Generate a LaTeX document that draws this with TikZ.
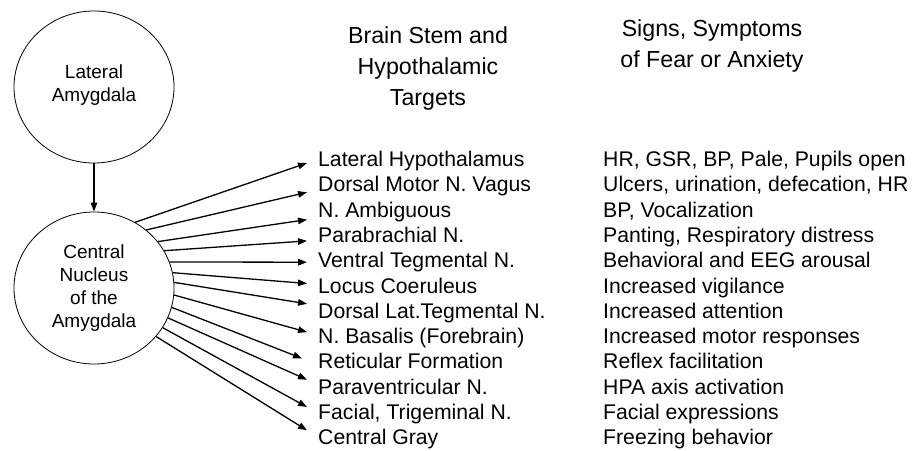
\documentclass[tikz,border=0pt]{standalone}
\usepackage{fontspec}
\setmainfont{Liberation Sans}
\usetikzlibrary{arrows.meta,shapes.geometric}

\begin{document}
\begin{tikzpicture}[x=1pt,y=-1pt,nuc/.style={draw,ellipse,line width=0.8pt,minimum width=160pt,minimum height=152pt,align=center,font=\fontsize{19}{23}\selectfont},head/.style={align=center,font=\fontsize{23.2}{31}\selectfont},tgt/.style={anchor=west,inner xsep=11pt,inner ysep=0pt,text height=15pt,text depth=4pt,font=\fontsize{21.2}{25}\selectfont},sign/.style={tgt,inner xsep=0pt},arr/.style={-{Triangle[length=9pt,width=6.5pt]},line width=1.3pt}]
\useasboundingbox (0,0) rectangle (912,450);
\node[nuc,text depth=8pt](la) at (94,87){Lateral\\Amygdala};
\node[nuc](cn) at (94,288){Central\\Nucleus\\of the\\Amygdala};
\node[head](hstem) at (428,68){Brain Stem and\\Hypothalamic\\Targets};
\node[head](hsign) at (712,46){Signs, Symptoms\\of Fear or Anxiety};
\node[tgt](t1) at (307,161){Lateral Hypothalamus};
\node[tgt](t2) at (307,186.3){Dorsal Motor N. Vagus};
\node[tgt](t3) at (307,211.6){N. Ambiguous};
\node[tgt](t4) at (307,236.9){Parabrachial N.};
\node[tgt](t5) at (307,262.2){Ventral Tegmental N.};
\node[tgt](t6) at (307,287.5){Locus Coeruleus};
\node[tgt](t7) at (307,312.8){Dorsal Lat.Tegmental N.};
\node[tgt](t8) at (307,338.1){N. Basalis (Forebrain)};
\node[tgt](t9) at (307,363.4){Reticular Formation};
\node[tgt](t10) at (307,388.7){Paraventricular N.};
\node[tgt](t11) at (307,414){Facial, Trigeminal N.};
\node[tgt](t12) at (307,439.3){Central Gray};
\node[sign](s1) at (603,161){HR, GSR, BP, Pale, Pupils open};
\node[sign](s2) at (603,186.3){Ulcers, urination, defecation, HR};
\node[sign](s3) at (603,211.6){BP, Vocalization};
\node[sign](s4) at (603,236.9){Panting, Respiratory distress};
\node[sign](s5) at (603,262.2){Behavioral and EEG arousal};
\node[sign](s6) at (603,287.5){Increased vigilance};
\node[sign](s7) at (603,312.8){Increased attention};
\node[sign](s8) at (603,338.1){Increased motor responses};
\node[sign](s9) at (603,363.4){Reflex facilitation};
\node[sign](s10) at (603,388.7){HPA axis activation};
\node[sign](s11) at (603,414){Facial expressions};
\node[sign](s12) at (603,439.3){Freezing behavior};
\draw[arr](la)--(cn);
\draw[arr](cn.58)--([yshift=-2]t1.west);
\draw[arr](cn.48)--([yshift=-6]t2.west);
\draw[arr](cn.36)--([yshift=-8]t3.west);
\draw[arr](cn.28)--([yshift=-4]t4.west);
\draw[arr](cn.19)--(t5.west);
\draw[arr](cn.11)--([yshift=4]t6.west);
\draw[arr](cn.4)--([yshift=9]t7.west);
\draw[arr](cn.-5)--([yshift=6]t8.west);
\draw[arr](cn.-14)--([xshift=-5,yshift=5]t9.west);
\draw[arr](cn.-22)--([yshift=9]t10.west);
\draw[arr](cn.-30)--([yshift=7]t11.west);
\draw[arr](cn.-38)--([yshift=9]t12.west);
\end{tikzpicture}
\end{document}
